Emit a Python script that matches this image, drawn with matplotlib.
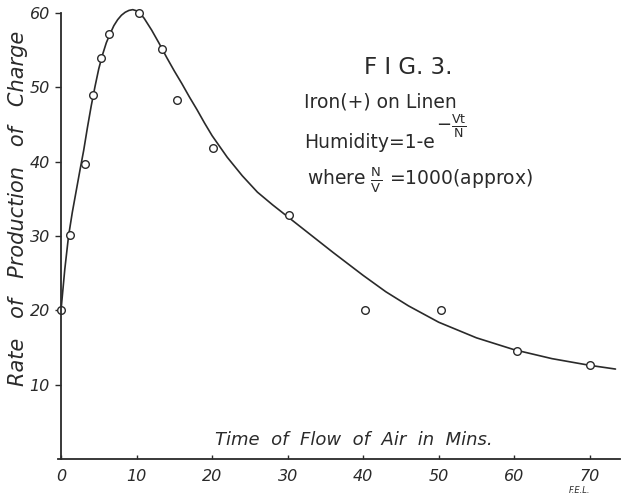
import matplotlib.pyplot as plt

# measured points (minutes, rate)
time_pts = [0, 1.2, 3.2, 4.3, 5.3, 6.4, 10.3, 13.4, 15.4, 20.1, 30.2, 40.3, 50.3, 60.3, 70]
rate_pts = [20, 30.1, 39.7, 49, 54, 57.2, 60, 55.1, 48.3, 41.8, 32.8, 20, 20, 14.5, 12.6]

# smooth curve
curve_t = [0, 0.5, 1, 1.5, 2, 2.5, 3, 3.5, 4, 4.5, 5, 5.5, 6, 6.5, 7, 7.5, 8, 8.5, 9,
           9.5, 10, 10.5, 11, 12, 13, 14, 15, 16, 17, 18, 19, 20, 22, 24, 26, 28, 30,
           33, 36, 40, 43, 46, 50, 55, 60, 65, 70, 73.4]
curve_r = [20, 25.5, 30, 33.2, 36, 38.8, 41.5, 44.6, 47.5, 50.1, 52.5, 54.4, 56, 57.2, 58.3,
           59.1, 59.7, 60.1, 60.35, 60.45, 60.3, 59.9, 59.3, 57.7, 55.9, 54, 52.2, 50.5,
           48.7, 47, 45.2, 43.5, 40.6, 38.1, 35.9, 34.2, 32.6, 30.2, 27.8, 24.7, 22.5,
           20.6, 18.4, 16.3, 14.7, 13.5, 12.6, 12.1]

x_ticks = [0, 10, 20, 30, 40, 50, 60, 70]
y_ticks = [10, 20, 30, 40, 50, 60]

ink = '#2a2a2a'

plt.rcParams['mathtext.fontset'] = 'custom'
plt.rcParams['mathtext.rm'] = 'DejaVu Sans'
plt.rcParams['mathtext.it'] = 'DejaVu Sans'

fig = plt.figure(figsize=(6.22, 4.98), dpi=100)
ax = fig.add_axes([61 / 622, 39 / 498, 559 / 622, 446 / 498])

ax.plot(curve_t, curve_r, color=ink, lw=1.2, solid_capstyle='round',
        solid_joinstyle='round', clip_on=False)
ax.plot(time_pts, rate_pts, 'o', ms=5.5, mfc='white', mec=ink, mew=1.0, clip_on=False)

ax.set_xlim(0, 74)
ax.set_ylim(0, 60)
ax.spines['top'].set_visible(False)
ax.spines['right'].set_visible(False)
for s in ('left', 'bottom'):
    ax.spines[s].set_color(ink)
    ax.spines[s].set_linewidth(1.3)
ax.spines['bottom'].set_bounds(-0.4, 74)

ax.set_xticks(x_ticks)
ax.set_yticks(y_ticks)
ax.tick_params(axis='x', direction='in', length=3, width=1, color=ink, pad=7)
ax.tick_params(axis='y', direction='out', length=4, width=1, color=ink, pad=4)
for lab in ax.get_xticklabels() + ax.get_yticklabels():
    lab.set_fontstyle('italic')
    lab.set_fontsize(11.5)
    lab.set_color(ink)
    lab.set_fontfamily('DejaVu Sans')

ax.text(0.275, 0.022, 'Time  of  Flow  of  Air  in  Mins.', transform=ax.transAxes,
        fontsize=13, style='italic', color=ink, va='bottom', ha='left')
fig.text(18 / 622, 1 - 208 / 498, 'Rate   of   Production   of   Charge', rotation=90,
         fontsize=15, style='italic', color=ink, ha='center', va='center')

fig.text(408 / 622, 1 - 68 / 498, 'F I G. 3.', fontsize=16.5, color=ink,
         ha='center', va='center')
fig.text(304 / 622, 1 - 102 / 498, 'Iron(+) on Linen', fontsize=13.5, color=ink,
         ha='left', va='center')
fig.text(304 / 622, 1 - 148 / 498, 'Humidity=1-e', fontsize=13.5, color=ink,
         ha='left', va='baseline')
fig.text(436 / 622, 1 - 126 / 498, r'$-\frac{\mathrm{Vt}}{\mathrm{N}}$', fontsize=13,
         color=ink, ha='left', va='center')
fig.text(307 / 622, 1 - 180 / 498, r'where $\frac{\mathrm{N}}{\mathrm{V}}$ =1000(approx)',
         fontsize=13.5, color=ink, ha='left', va='center')
fig.text(580 / 622, 1 - 490 / 498, 'F.E.L.', fontsize=6, style='italic', color=ink,
         ha='center', va='center')

fig.savefig('out.png', dpi=100)
